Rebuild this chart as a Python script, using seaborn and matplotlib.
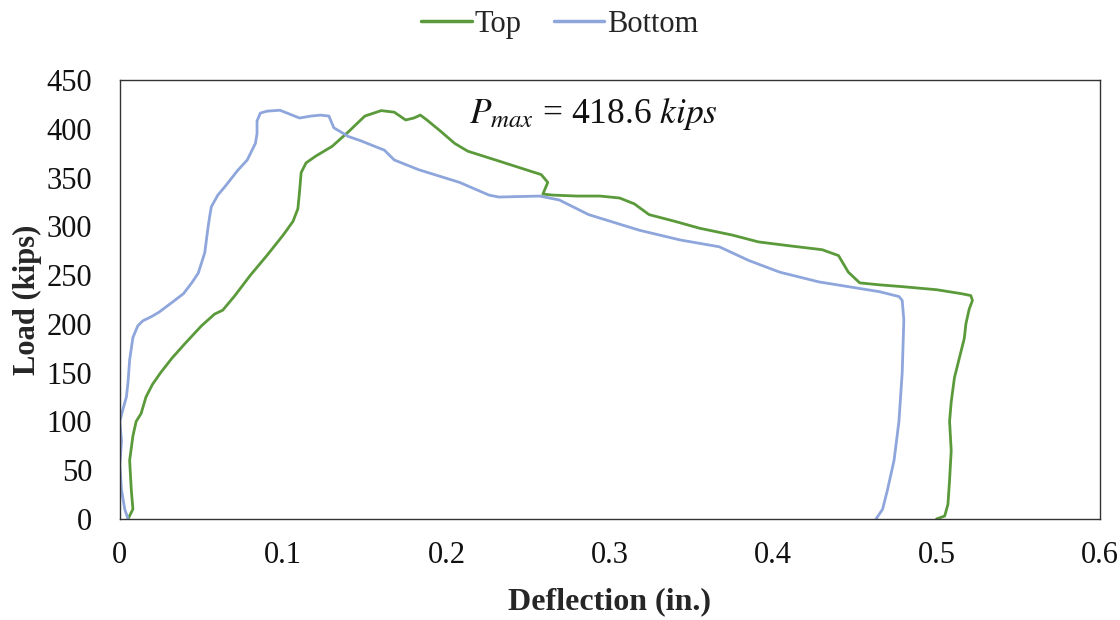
import matplotlib
matplotlib.use("Agg")
import matplotlib.pyplot as plt
import seaborn as sns
import pandas as pd

# Load-deflection readings for the two gauges
top_deflection = [0.005, 0.008, 0.007, 0.006, 0.008, 0.010, 0.013, 0.016, 0.020, 0.025, 0.032,
                  0.040, 0.050, 0.058, 0.063, 0.070, 0.080, 0.090, 0.100, 0.106, 0.109, 0.110,
                  0.111, 0.114, 0.120, 0.130, 0.140, 0.150, 0.160, 0.168, 0.175, 0.180, 0.184,
                  0.188, 0.196, 0.205, 0.213, 0.230, 0.258, 0.262, 0.259, 0.265, 0.280, 0.294,
                  0.306, 0.315, 0.324, 0.340, 0.355, 0.375, 0.391, 0.410, 0.430, 0.440, 0.446,
                  0.453, 0.465, 0.480, 0.500, 0.515, 0.521, 0.522, 0.520, 0.518, 0.517, 0.514,
                  0.511, 0.509, 0.508, 0.509, 0.508, 0.507, 0.505, 0.500]
top_load = [0, 10, 30, 60, 85, 100, 108, 125, 138, 150, 165,
            180, 198, 210, 214, 228, 250, 270, 291, 305, 318, 335,
            355, 365, 372, 382, 397, 413, 418.6, 417, 409, 411, 414,
            409, 398, 385, 377, 368, 353, 345, 333, 332, 331, 331,
            329, 323, 312, 305, 298, 291, 284, 280, 276, 270, 253,
            242, 240, 238, 235, 231, 229, 224, 215, 200, 185, 165,
            145, 120, 100, 70, 40, 15, 3, 0]

bottom_deflection = [0.005, 0.003, 0.001, 0.000, 0.001, 0.000, 0.002, 0.004, 0.005, 0.006,
                     0.008, 0.011, 0.014, 0.020, 0.024, 0.032, 0.039, 0.044, 0.048, 0.052,
                     0.054, 0.055, 0.056, 0.060, 0.065, 0.072, 0.078, 0.083, 0.084, 0.084,
                     0.086, 0.090, 0.098, 0.104, 0.110, 0.117, 0.123, 0.128, 0.131, 0.140,
                     0.147, 0.162, 0.168, 0.183, 0.208, 0.226, 0.232, 0.257, 0.269, 0.287,
                     0.318, 0.343, 0.367, 0.385, 0.404, 0.428, 0.465, 0.477, 0.479, 0.480,
                     0.479, 0.477, 0.474, 0.470, 0.467, 0.463]
bottom_load = [0, 10, 30, 55, 80, 100, 113, 125, 140, 163,
               186, 198, 203, 208, 212, 222, 231, 242, 252, 273,
               299, 310, 320, 332, 342, 357, 368, 385, 395, 408,
               416, 418, 419, 415, 411, 413, 414, 413, 401, 392,
               388, 378, 368, 358, 345, 332, 330, 331, 327, 312,
               296, 286, 279, 265, 253, 243, 233, 228, 224, 204,
               150, 100, 60, 30, 10, 0]

series_names = ["Top", "Bottom"]
series_colors = ["#5B9A3B", "#8EA6DC"]

df = pd.concat([
    pd.DataFrame({"Deflection": top_deflection, "Load": top_load, "Gauge": series_names[0]}),
    pd.DataFrame({"Deflection": bottom_deflection, "Load": bottom_load, "Gauge": series_names[1]}),
], ignore_index=True)

sns.set_theme(style="white")
plt.rcParams["font.family"] = ["Liberation Serif", "DejaVu Serif"]
plt.rcParams["mathtext.fontset"] = "stix"

fig = plt.figure(figsize=(11.2, 6.2), dpi=100)
ax = fig.add_axes([0.107, 0.163, 0.875, 0.708])

sns.lineplot(data=df, x="Deflection", y="Load", hue="Gauge", sort=False, estimator=None,
             palette=dict(zip(series_names, series_colors)), linewidth=2.0, ax=ax, legend=False)

ax.set_xlim(0, 0.6)
ax.set_ylim(0, 450)
ax.set_xticks([0, 0.1, 0.2, 0.3, 0.4, 0.5, 0.6])
ax.set_xticklabels(["0", "0.1", "0.2", "0.3", "0.4", "0.5", "0.6"])
ax.set_yticks(range(0, 451, 50))
ax.tick_params(direction="in", length=7, width=1, colors="#222222", labelsize=22,
               labelcolor="#111111")
ax.tick_params(axis="y", pad=20)
ax.tick_params(axis="x", pad=16)
for s in ax.spines.values():
    s.set_color("#333333")
    s.set_linewidth(1.0)

ax.set_xlabel("Deflection (in.)", fontsize=23, fontweight="bold", labelpad=12)
ax.set_ylabel("Load (kips)", fontsize=22, fontweight="bold", labelpad=3)

ax.text(0.214, 416, r"$P_{max}$ = 418.6 $kips$", fontsize=25.5, va="center", ha="left",
        color="#111111")

handles = [plt.Line2D([], [], color=c, linewidth=2.5) for c in series_colors]
fig.legend(handles, series_names, loc="upper center", bbox_to_anchor=(0.5, 1.028), ncol=2,
           frameon=False, fontsize=22, handlelength=1.65, columnspacing=1.05, handletextpad=0.1)

fig.savefig("out.png", dpi=100)
